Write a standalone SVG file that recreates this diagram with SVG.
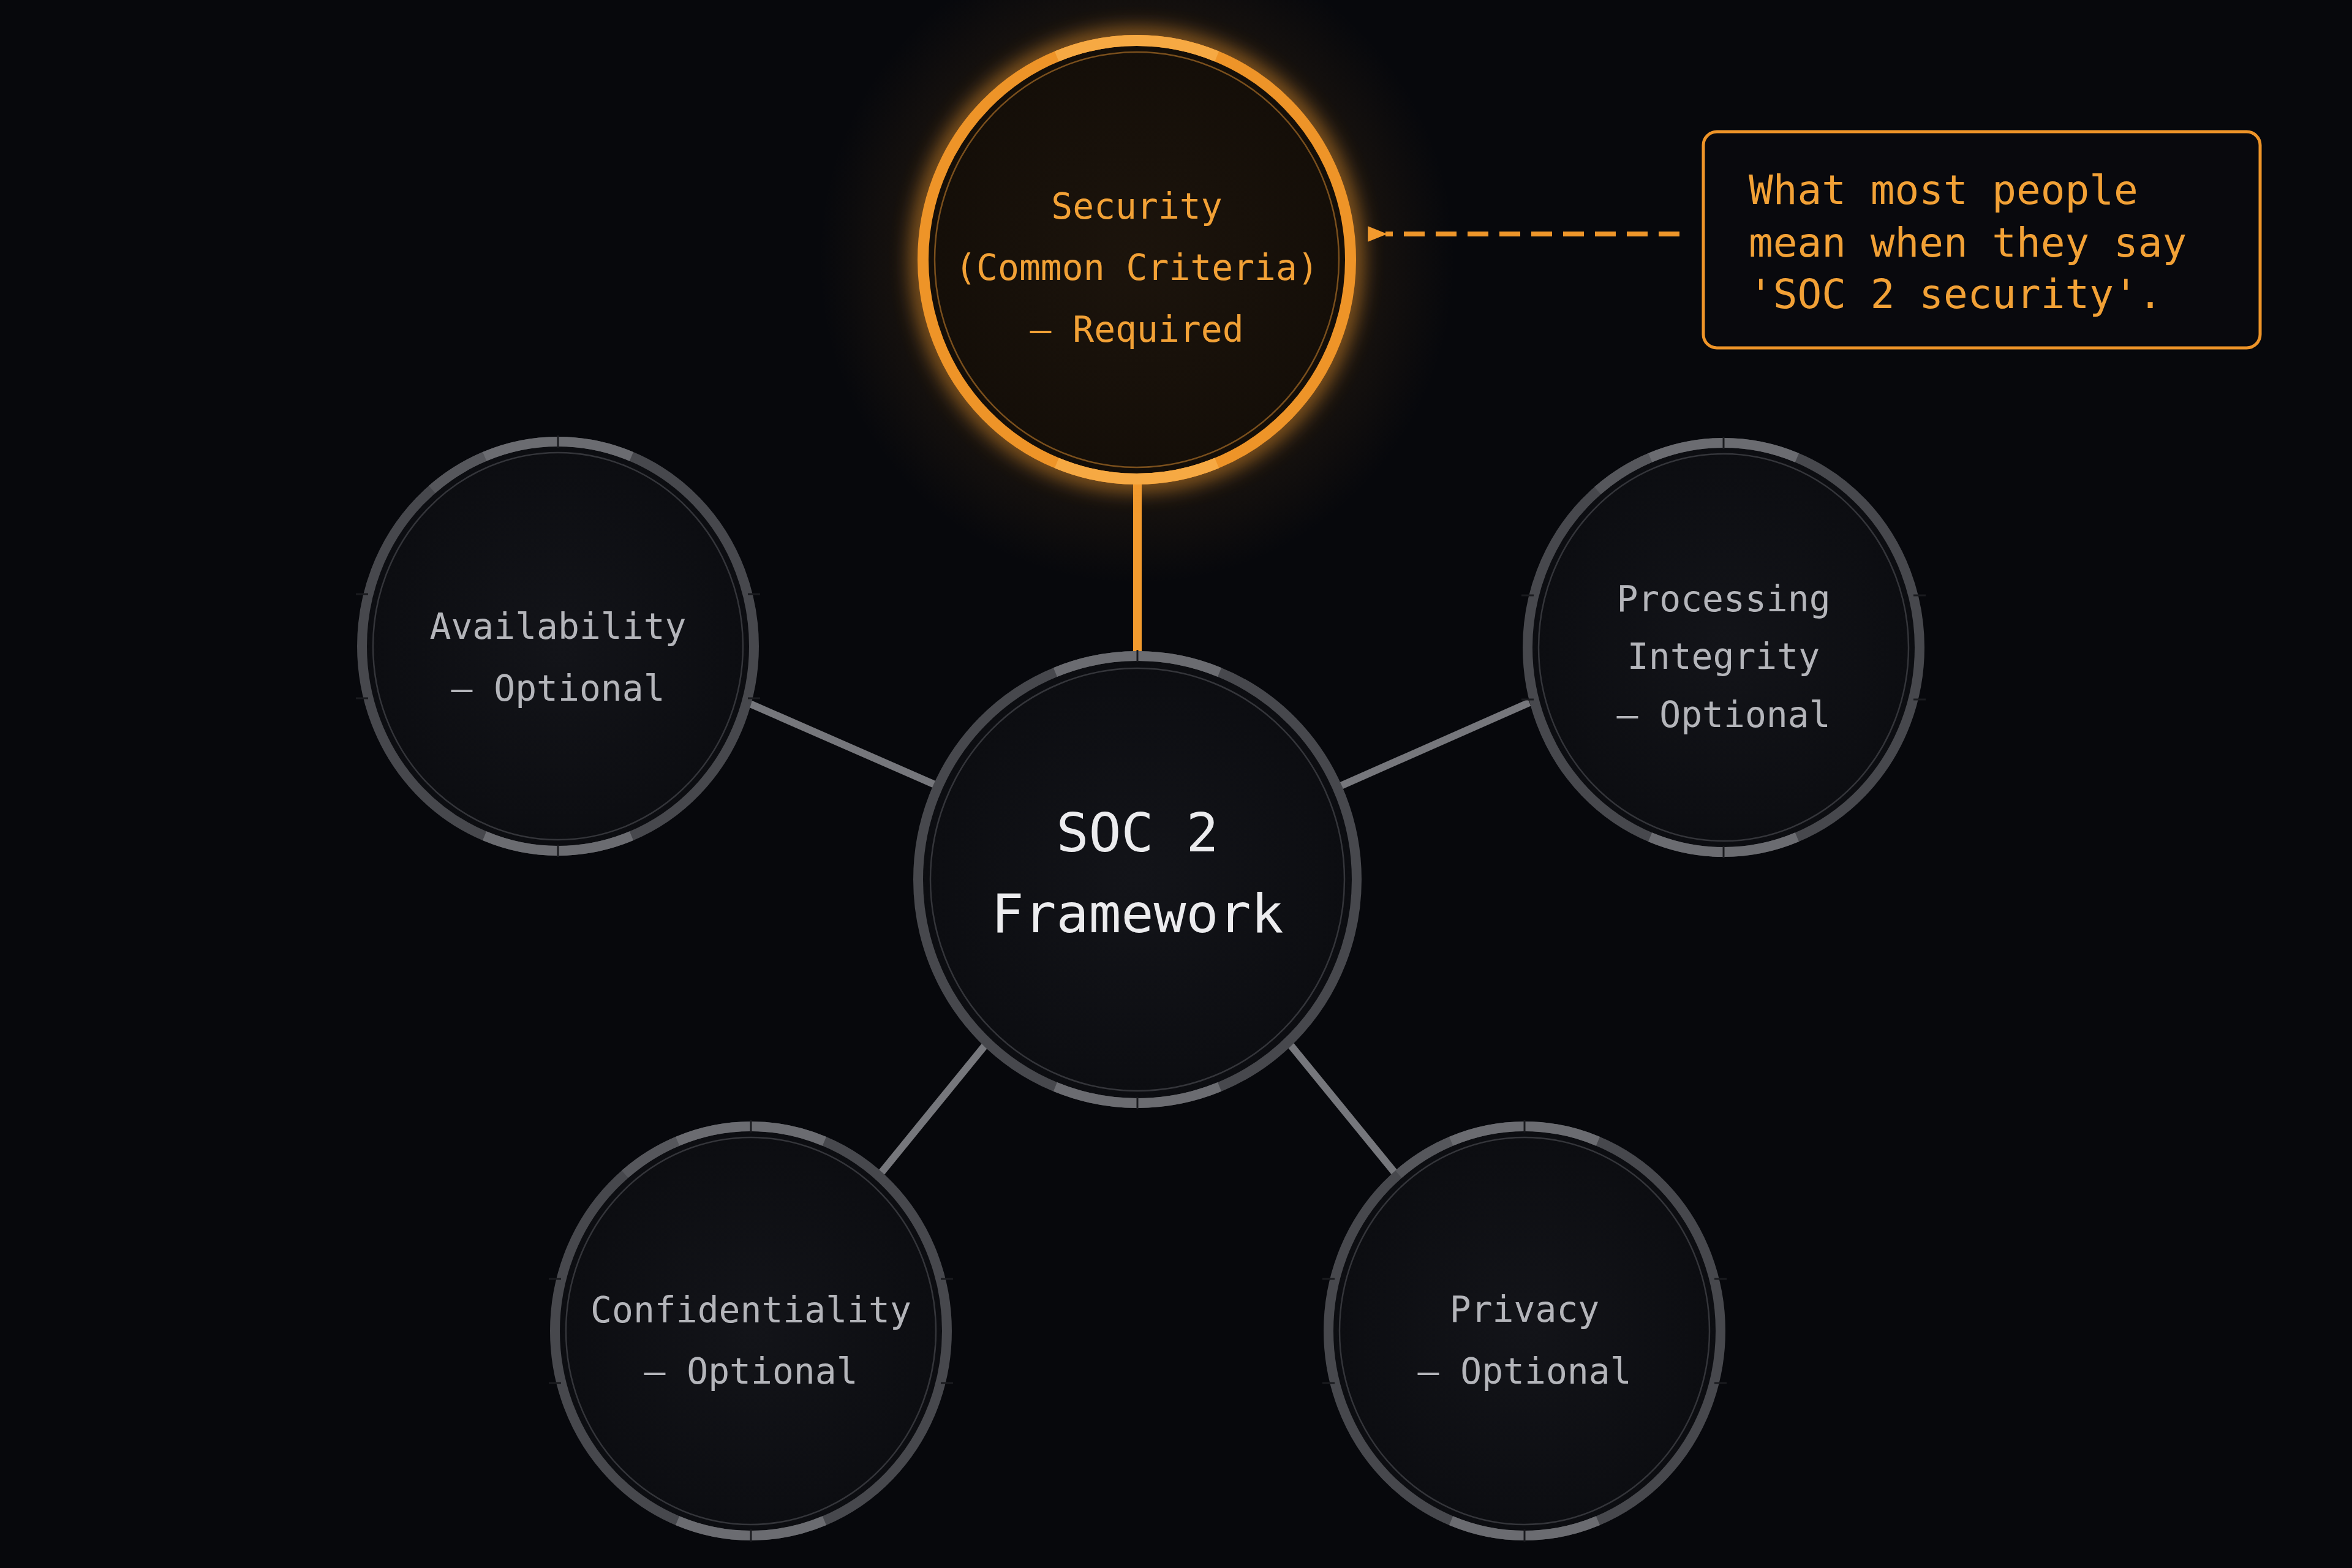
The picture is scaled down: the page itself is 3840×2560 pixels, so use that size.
<svg xmlns="http://www.w3.org/2000/svg" xmlns:xlink="http://www.w3.org/1999/xlink" width="3840" height="2560" viewBox="0 0 3840 2560">
  <defs>
    <style>
      .lbl { font-family: "DejaVu Sans Mono", "Liberation Mono", monospace; font-size: 58px; fill: #b4b5ba; text-anchor: middle; }
      .lbl-or { font-family: "DejaVu Sans Mono", "Liberation Mono", monospace; font-size: 58px; fill: #f2a136; text-anchor: middle; }
      .lbl-c { font-family: "DejaVu Sans Mono", "Liberation Mono", monospace; font-size: 88px; fill: #ececee; text-anchor: middle; }
      .note { font-family: "DejaVu Sans Mono", "Liberation Mono", monospace; font-size: 66px; fill: #f2a136; }
      .conn { stroke: #76777c; stroke-width: 12; stroke-linecap: butt; fill: none; }
      .conn-or { stroke: #f29a2e; stroke-width: 14; fill: none; }
      .ring { fill: none; stroke: #47484d; stroke-width: 16; }
      .ring-hi { fill: none; stroke: #6b6c71; stroke-width: 16; }
      .ring-mid { fill: none; stroke: #56575c; stroke-width: 16; }
      .ring-in { fill: none; stroke: #34353a; stroke-width: 2.5; }
      .tick { stroke: #1a1b1f; stroke-width: 3; }
    </style>
    <radialGradient id="gFill" cx="50%" cy="50%" r="50%">
      <stop offset="0" stop-color="#131419"/>
      <stop offset="1" stop-color="#0c0d11"/>
    </radialGradient>
    <radialGradient id="gFillOr" cx="50%" cy="50%" r="50%">
      <stop offset="0" stop-color="#1c140c"/>
      <stop offset="1" stop-color="#140e08"/>
    </radialGradient>
    <radialGradient id="gHalo" cx="50%" cy="50%" r="50%">
      <stop offset="0.6" stop-color="#f29a2e" stop-opacity="0.10"/>
      <stop offset="1" stop-color="#f29a2e" stop-opacity="0"/>
    </radialGradient>
    <filter id="blur" x="-30%" y="-30%" width="160%" height="160%">
      <feGaussianBlur stdDeviation="16"/>
    </filter>
    <marker id="arrowOr" viewBox="0 0 10 10" refX="1" refY="5" markerWidth="4" markerHeight="4" orient="auto">
      <path d="M10 1 L0 5 L10 9 Z" fill="#f29a2e"/>
    </marker>
    <!-- small node ring, centered at origin -->
    <g id="smallRing">
      <ellipse rx="320" ry="334" fill="url(#gFill)"/>
      <ellipse class="ring" rx="320" ry="334"/>
      <path class="ring-mid" d="M -205.7 -255.9 A 320 334 0 0 1 -119.9 -309.7"/>
      <path class="ring-hi" d="M -119.9 -309.7 A 320 334 0 0 1 119.9 -309.7"/>
      <path class="ring-hi" d="M 119.9 309.7 A 320 334 0 0 1 -119.9 309.7"/>
      <line class="tick" x1="0" y1="-344" x2="0" y2="-324"/>
      <line class="tick" x1="0" y1="324" x2="0" y2="344"/>
      <line class="tick" x1="-330" y1="-85" x2="-310" y2="-85"/>
      <line class="tick" x1="-330" y1="85" x2="-310" y2="85"/>
      <line class="tick" x1="310" y1="-85" x2="330" y2="-85"/>
      <line class="tick" x1="310" y1="85" x2="330" y2="85"/>
      <ellipse class="ring-in" rx="302" ry="316"/>
    </g>
  </defs>

  <rect width="3840" height="2560" fill="#07080c"/>

  <g id="connectors">
    <line class="conn" x1="1220" y1="1147" x2="1540" y2="1287"/>
    <line class="conn" x1="2180" y1="1287" x2="2497" y2="1147"/>
    <line class="conn" x1="1612" y1="1702" x2="1432" y2="1923"/>
    <line class="conn" x1="2102" y1="1700" x2="2284" y2="1923"/>
    <line class="conn-or" x1="1857" y1="780" x2="1857" y2="1075"/>
    <line x1="2742" y1="382" x2="2262" y2="382" stroke="#ee962a" stroke-width="8" stroke-dasharray="34 18" marker-end="url(#arrowOr)"/>
  </g>

  <g id="node-security">
    <ellipse cx="1856" cy="424" rx="520" ry="530" fill="url(#gHalo)"/>
    <ellipse cx="1856" cy="424" rx="352" ry="361" fill="none" stroke="#f29a2e" stroke-width="34" opacity="0.55" filter="url(#blur)"/>
    <ellipse cx="1856" cy="424" rx="349" ry="358" fill="url(#gFillOr)"/>
    <ellipse cx="1856" cy="424" rx="349" ry="358" fill="none" stroke="#ee9428" stroke-width="18"/>
    <path d="M 1725.3 92.1 A 349 358 0 0 1 1986.7 92.1" fill="none" stroke="#f6a943" stroke-width="18"/>
    <path d="M 1986.7 755.9 A 349 358 0 0 1 1725.3 755.9" fill="none" stroke="#f6a943" stroke-width="18"/>
    <ellipse cx="1856" cy="424" rx="330" ry="339" fill="none" stroke="#7a4f1c" stroke-width="2.5"/>
    <text class="lbl-or" x="1856" y="357">Security</text>
    <text class="lbl-or" x="1856" y="457">(Common Criteria)</text>
    <text class="lbl-or" x="1856" y="558">– Required</text>
  </g>

  <g id="node-center">
    <ellipse cx="1857" cy="1436" rx="358" ry="365" fill="url(#gFill)"/>
    <ellipse cx="1857" cy="1436" rx="358" ry="365" class="ring"/>
    <path class="ring-hi" d="M 1722.9 1097.6 A 358 365 0 0 1 1991.1 1097.6"/>
    <path class="ring-hi" d="M 1991.1 1774.4 A 358 365 0 0 1 1722.9 1774.4"/>
    <line class="tick" x1="1857" y1="1061" x2="1857" y2="1081"/>
    <line class="tick" x1="1857" y1="1791" x2="1857" y2="1811"/>
    <ellipse cx="1857" cy="1436" rx="338" ry="345" class="ring-in"/>
    <text class="lbl-c" x="1857" y="1390">SOC 2</text>
    <text class="lbl-c" x="1857" y="1522">Framework</text>
  </g>

  <g id="node-availability">
    <use xlink:href="#smallRing" href="#smallRing" transform="translate(911 1055)"/>
    <text class="lbl" x="911" y="1043">Availability</text>
    <text class="lbl" x="911" y="1144">– Optional</text>
  </g>

  <g id="node-processing">
    <use xlink:href="#smallRing" href="#smallRing" transform="translate(2814 1057)"/>
    <text class="lbl" x="2814" y="998">Processing</text>
    <text class="lbl" x="2814" y="1092">Integrity</text>
    <text class="lbl" x="2814" y="1187">– Optional</text>
  </g>

  <g id="node-confidentiality">
    <use xlink:href="#smallRing" href="#smallRing" transform="translate(1226 2173)"/>
    <text class="lbl" x="1226" y="2159">Confidentiality</text>
    <text class="lbl" x="1226" y="2259">– Optional</text>
  </g>

  <g id="node-privacy">
    <use xlink:href="#smallRing" href="#smallRing" transform="translate(2489 2173)"/>
    <text class="lbl" x="2489" y="2158">Privacy</text>
    <text class="lbl" x="2489" y="2259">– Optional</text>
  </g>

  <g id="note-callout">
    <rect x="2781" y="215" width="909" height="353" rx="22" ry="22" fill="#09090d" stroke="#ee9428" stroke-width="5"/>
    <text class="note" x="2855" y="333">What most people</text>
    <text class="note" x="2855" y="419">mean when they say</text>
    <text class="note" x="2855" y="503">'SOC 2 security'.</text>
  </g>
</svg>
